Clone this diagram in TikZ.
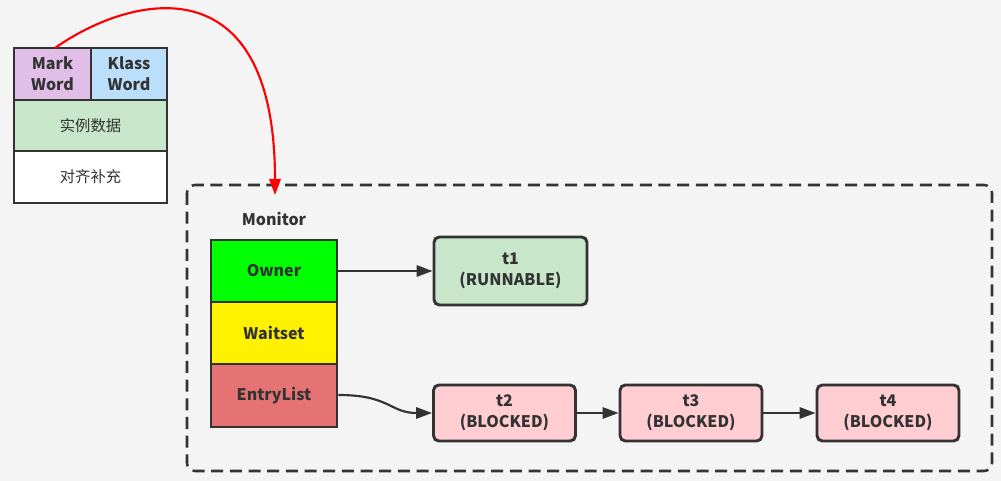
\documentclass[tikz,border=0pt]{standalone}
\usepackage{fontspec}
\setmainfont{Noto Sans CJK SC}
\usetikzlibrary{arrows.meta}
\definecolor{bgGray}{HTML}{F4F4F4}
\definecolor{ink}{HTML}{333333}
\definecolor{markPurple}{HTML}{E1BEE7}
\definecolor{klassBlue}{HTML}{BBDEFB}
\definecolor{dataGreen}{HTML}{C8E6C9}
\definecolor{entryRed}{HTML}{E57373}
\definecolor{blockedPink}{HTML}{FFCDD2}
\newcommand{\px}{0.75pt}
\tikzset{
  cell/.style={draw=ink,line width=2.2pt,text=ink,font=\bfseries\fontsize{12}{16}\selectfont,align=center,inner sep=0pt},
  hanzi/.style={font=\fontsize{11.5}{14}\selectfont},
  thread/.style={cell,rounded corners=4pt,fill=blockedPink,minimum width=142*\px,minimum height=56*\px},
  link/.style={draw=ink,line width=1.6pt,-{Triangle[length=12pt,width=8.5pt]}}
}
\newcommand{\blocked}[3]{
  \node[thread] (#1) at (#2,413) {#3\\(BLOCKED)};
}
\begin{document}
\begin{tikzpicture}[x=\px,y=-\px]
    \useasboundingbox[fill=bgGray] (0,0) rectangle (1001,481);
    % object header
    \node[cell,fill=markPurple,minimum width=77*\px,minimum height=52*\px] (mark) at (52.5,74) {Mark\\Word};
    \node[cell,fill=klassBlue,minimum width=76*\px,minimum height=52*\px] (klass) at (129,74) {Klass\\Word};
    \node[cell,hanzi,fill=dataGreen,minimum width=153*\px,minimum height=51*\px] (data) at (90.5,125.5) {实例数据};
    \node[cell,hanzi,fill=white,minimum width=153*\px,minimum height=52*\px] (pad) at (90.5,177) {对齐补充};
    % monitor
    \draw[ink,line width=1.9pt,dash pattern=on 9pt off 5pt,rounded corners=6pt] (187,185) rectangle (992,471);
    \node[text=ink,font=\bfseries\fontsize{12}{16}\selectfont] (monitor) at (274,219) {Monitor};
    \node[cell,fill=green,minimum width=126*\px,minimum height=62*\px] (owner) at (274,271) {Owner};
    \node[cell,fill=yellow,minimum width=126*\px,minimum height=62*\px] (waitset) at (274,333) {Waitset};
    \node[cell,fill=entryRed,minimum width=126*\px,minimum height=63*\px] (entry) at (274,395.5) {EntryList};
    \node[thread,fill=dataGreen,minimum width=153*\px,minimum height=68*\px] (t1) at (510.5,271) {t1\\(RUNNABLE)};
    \blocked{t2}{504.5}{t2}
    \blocked{t3}{691}{t3}
    \blocked{t4}{888}{t4}
    \coordinate (hook) at (275,195);
    \draw[link] (owner.east) -- (t1.west);
    \draw[link] (entry.east |- 0,395) .. controls (390,395) and (390,413) .. (t2.west);
    \foreach \a/\b in {t2/t3,t3/t4} \draw[link] (\a) -- (\b);
    \draw[red,line width=1.6pt,-{Triangle[length=12pt,width=8.5pt]}] (55,48) .. controls (130,-5) and (275,-40) .. (hook);
\end{tikzpicture}
\end{document}
